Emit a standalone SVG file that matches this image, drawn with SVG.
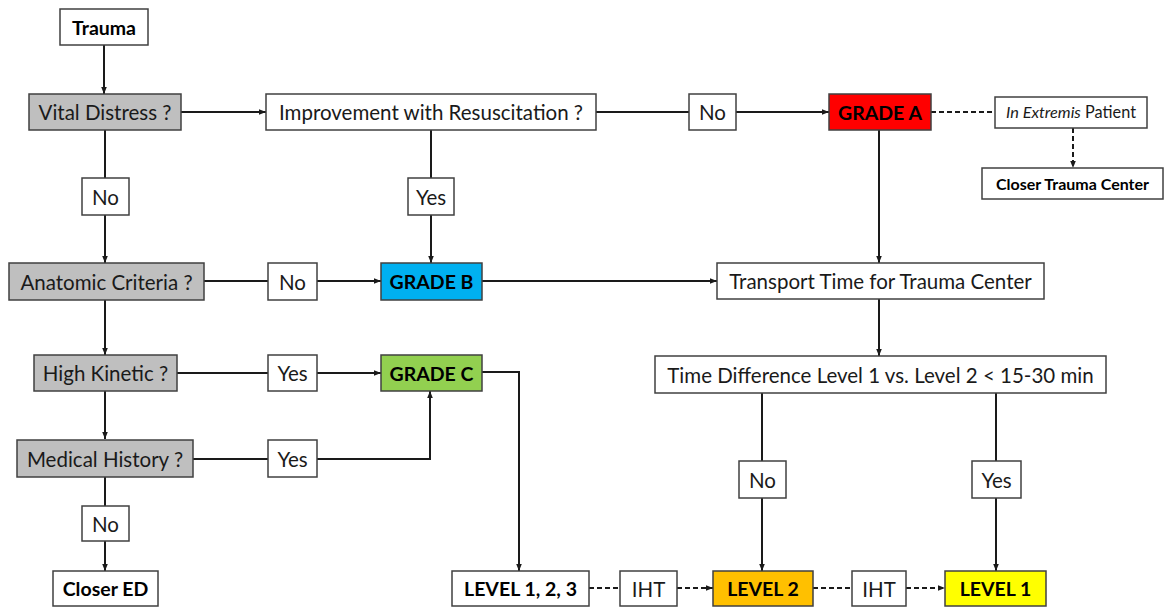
<svg xmlns="http://www.w3.org/2000/svg" width="1164" height="608" viewBox="0 0 1164 608">
<defs>
<marker id="ah" viewBox="0 0 10 10" refX="10" refY="5" markerWidth="7" markerHeight="7" markerUnits="userSpaceOnUse" orient="auto">
<path d="M0,1 L10,5 L0,9 z" fill="#1a1a1a"/>
</marker>
<style>
.b{fill:#fff;stroke:#404040;stroke-width:1.5}
.q{fill:#bfbfbf;stroke:#404040;stroke-width:1.5}
.t{font-family:Lato,"Open Sans",sans-serif;font-size:20.5px;fill:#1a1a1a;text-anchor:middle;dominant-baseline:central}
.s{font-size:16.3px}
.bd{font-weight:bold;font-size:19.5px;fill:#000}
.bd.s{font-size:16px}
.c{fill:none;stroke:#1a1a1a;stroke-width:2}
.d{fill:none;stroke:#1a1a1a;stroke-width:2;stroke-dasharray:5,3}
</style>
</defs>
<rect width="1164" height="608" fill="#fff"/>
<g id="connectors">
<path class="c" d="M104,45 V94" marker-end="url(#ah)"/>
<path class="c" d="M181,112 H266" marker-end="url(#ah)"/>
<path class="c" d="M596,112 H689"/>
<path class="c" d="M736,112 H829" marker-end="url(#ah)"/>
<path class="d" d="M931,112 H995"/>
<path class="d" d="M1073,128 V168" marker-end="url(#ah)"/>
<path class="c" d="M431,130 V178"/>
<path class="c" d="M431,215 V263" marker-end="url(#ah)"/>
<path class="c" d="M105,130 V178"/>
<path class="c" d="M105,215 V263" marker-end="url(#ah)"/>
<path class="c" d="M204,281 H268"/>
<path class="c" d="M317,281 H381" marker-end="url(#ah)"/>
<path class="c" d="M482,281 H717" marker-end="url(#ah)"/>
<path class="c" d="M879,130 V263" marker-end="url(#ah)"/>
<path class="c" d="M879,299 V356" marker-end="url(#ah)"/>
<path class="c" d="M105,300 V355" marker-end="url(#ah)"/>
<path class="c" d="M177,373 H268"/>
<path class="c" d="M317,373 H381" marker-end="url(#ah)"/>
<path class="c" d="M105,391 V439" marker-end="url(#ah)"/>
<path class="c" d="M193,459 H268"/>
<path class="c" d="M317,459 H430 V391" marker-end="url(#ah)"/>
<path class="c" d="M105,477 V506"/>
<path class="c" d="M105,541 V571" marker-end="url(#ah)"/>
<path class="c" d="M482,372 H519 V571" marker-end="url(#ah)"/>
<path class="d" d="M589,588 H620"/>
<path class="d" d="M677,588 H713" marker-end="url(#ah)"/>
<path class="d" d="M813,588 H852"/>
<path class="d" d="M906,588 H945" marker-end="url(#ah)"/>
<path class="c" d="M762,393 V461"/>
<path class="c" d="M762,498 V571" marker-end="url(#ah)"/>
<path class="c" d="M996,393 V461"/>
<path class="c" d="M996,498 V571" marker-end="url(#ah)"/>
</g>
<g id="trauma"><rect class="b" x="60" y="9" width="88" height="36"/><text class="t bd" x="104" y="27">Trauma</text></g>
<g id="vital"><rect class="q" x="29" y="94" width="152" height="36"/><text class="t" x="105" y="112">Vital Distress ?</text></g>
<g id="improvement"><rect class="b" x="266" y="94" width="330" height="36"/><text class="t" x="431" y="112">Improvement with Resuscitation ?</text></g>
<g id="no-a"><rect class="b" x="689" y="94" width="47" height="36"/><text class="t" x="712.5" y="112">No</text></g>
<g id="grade-a"><rect x="829" y="94" width="102" height="36" fill="#ff0000" stroke="#404040" stroke-width="1.5"/><text class="t bd" x="880" y="112">GRADE A</text></g>
<g id="extremis"><rect class="b" x="995" y="97" width="152" height="31"/><text class="t s" x="1071" y="118.3" style="dominant-baseline:auto"><tspan font-style="italic">In Extremis</tspan> Patient</text></g>
<g id="closer-tc"><rect class="b" x="982" y="168" width="181" height="31"/><text class="t s bd" x="1072.5" y="183.5">Closer Trauma Center</text></g>
<g id="no-vital"><rect class="b" x="82" y="178" width="47" height="37"/><text class="t" x="105.5" y="196.5">No</text></g>
<g id="yes-imp"><rect class="b" x="408" y="178" width="46" height="37"/><text class="t" x="431" y="196.5">Yes</text></g>
<g id="anatomic"><rect class="q" x="9" y="263" width="195" height="37"/><text class="t" x="106.5" y="281.5">Anatomic Criteria ?</text></g>
<g id="no-anat"><rect class="b" x="268" y="263" width="49" height="37"/><text class="t" x="292.5" y="281.5">No</text></g>
<g id="grade-b"><rect x="381" y="263" width="101" height="37" fill="#00b0f0" stroke="#404040" stroke-width="1.5"/><text class="t bd" x="431.5" y="281.5">GRADE B</text></g>
<g id="transport"><rect class="b" x="717" y="263" width="327" height="36"/><text class="t" x="880.5" y="281">Transport Time for Trauma Center</text></g>
<g id="kinetic"><rect class="q" x="34" y="355" width="143" height="36"/><text class="t" x="105.5" y="373">High Kinetic ?</text></g>
<g id="yes-kin"><rect class="b" x="268" y="355" width="49" height="36"/><text class="t" x="292.5" y="373">Yes</text></g>
<g id="grade-c"><rect x="381" y="355" width="101" height="36" fill="#92d050" stroke="#404040" stroke-width="1.5"/><text class="t bd" x="431.5" y="373">GRADE C</text></g>
<g id="timediff"><rect class="b" x="655" y="356" width="451" height="37"/><text class="t" x="880.5" y="374.5">Time Difference Level 1 vs. Level 2 &lt; 15-30 min</text></g>
<g id="medical"><rect class="q" x="17" y="440" width="176" height="37"/><text class="t" x="105" y="458.5">Medical History ?</text></g>
<g id="yes-med"><rect class="b" x="268" y="440" width="49" height="37"/><text class="t" x="292.5" y="458.5">Yes</text></g>
<g id="no-med"><rect class="b" x="82" y="506" width="47" height="35"/><text class="t" x="105.5" y="523.5">No</text></g>
<g id="no-td"><rect class="b" x="739" y="461" width="47" height="37"/><text class="t" x="762.5" y="479.5">No</text></g>
<g id="yes-td"><rect class="b" x="972" y="461" width="49" height="37"/><text class="t" x="996.5" y="479.5">Yes</text></g>
<g id="closer-ed"><rect class="b" x="53" y="571" width="105" height="35"/><text class="t bd" x="105.5" y="588.5">Closer ED</text></g>
<g id="level123"><rect class="b" x="452" y="571" width="137" height="35"/><text class="t bd" x="520.5" y="588.5">LEVEL 1, 2, 3</text></g>
<g id="iht1"><rect class="b" x="620" y="571" width="57" height="35"/><text class="t" x="648.5" y="588.5">IHT</text></g>
<g id="level2"><rect x="713" y="571" width="100" height="35" fill="#ffc000" stroke="#404040" stroke-width="1.5"/><text class="t bd" x="763" y="588.5">LEVEL 2</text></g>
<g id="iht2"><rect class="b" x="852" y="571" width="54" height="35"/><text class="t" x="879" y="588.5">IHT</text></g>
<g id="level1"><rect x="945" y="571" width="101" height="35" fill="#ffff00" stroke="#404040" stroke-width="1.5"/><text class="t bd" x="995.5" y="588.5">LEVEL 1</text></g>
</svg>
